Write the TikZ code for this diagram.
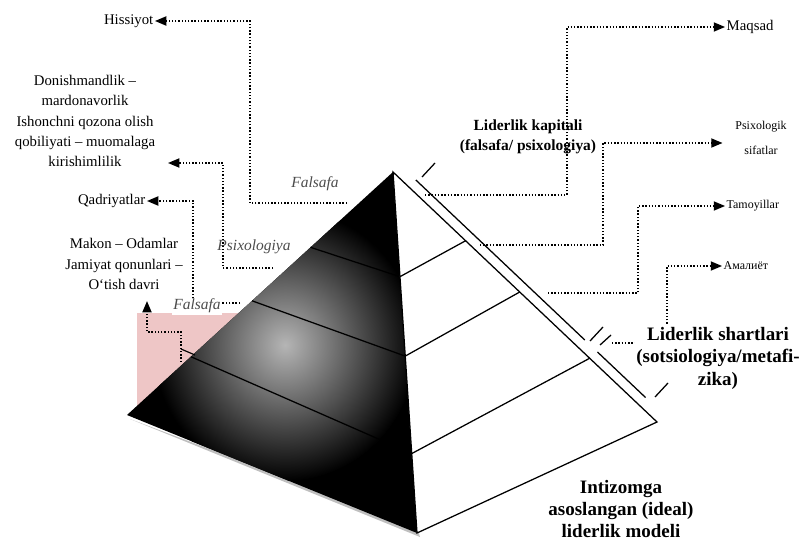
\documentclass[tikz,border=0pt]{standalone}
\usepackage{fontspec}
\setmainfont{Liberation Serif}
\usetikzlibrary{arrows.meta, positioning, calc}

\definecolor{pinkbg}{RGB}{238,198,198}

\tikzset{
  link/.style={line width=1pt, dash pattern=on 1pt off 1.3pt, -{Triangle[length=8pt, width=6.5pt]}},
  rim/.style={line width=0.9pt},
  lbl/.style={font=\fontsize{10.5}{14.5}\selectfont, align=center, inner sep=1pt},
  smalllbl/.style={font=\fontsize{8.5}{17.5}\selectfont, align=center, inner sep=1pt},
  italbl/.style={font=\fontsize{11}{13}\selectfont\itshape, text=black!70, inner sep=1pt},
  headlbl/.style={font=\fontsize{13.5}{16}\selectfont\bfseries, align=center, inner sep=1pt},
}

\begin{document}
\begin{tikzpicture}[x=0.025cm, y=-0.025cm]
    \useasboundingbox (0,0) rectangle (799,544);

    % Piramida burchaklari
    \coordinate (apex) at (393,172);
    \coordinate (lc) at (127,415);
    \coordinate (fb) at (417,533);
    \coordinate (rc) at (657,422);

    % Pushti fon
    \fill[pinkbg] (137,313) rectangle (250,412);

    % Chap yuz (qora)
    \fill[black!25] ($(lc)+(3,4)$) -- ($(fb)+(3,4)$) -- ($(fb)+(0,-6)$) -- cycle;
    \fill[black] (apex) -- (lc) -- (fb) -- cycle;
    \begin{scope}
        \clip (apex) -- (lc) -- (fb) -- cycle;
        \shade[inner color=gray!58, outer color=black] (285,345) ellipse (3.3cm and 3.4cm);
    \end{scope}
    \draw[rim] ($(apex)!0.31!(lc)$) -- ($(apex)!0.29!(fb)$);
    \draw[rim] ($(apex)!0.53!(lc)$) -- ($(apex)!0.51!(fb)$);
    \draw[rim] ($(apex)!0.76!(lc)$) -- ($(apex)!0.78!(fb)$);

    % O'ng yuz (oq)
    \filldraw[rim, fill=white] (apex) -- (fb) -- (rc) -- cycle;
    \draw[rim] ($(apex)!0.29!(fb)$) -- ($(apex)!0.275!(rc)$);
    \draw[rim] ($(apex)!0.51!(fb)$) -- ($(apex)!0.48!(rc)$);
    \draw[rim] ($(apex)!0.78!(fb)$) -- ($(apex)!0.745!(rc)$);

    % Chap yozuvlar
    \node[lbl, anchor=east] (hissiyot) at (155,21) {Hissiyot};
    \node[lbl, inner xsep=9pt] (donish) at (85,121) {Donishmandlik –\\mardonavorlik\\Ishonchni qozona olish\\qobiliyati – muomalaga\\kirishimlilik};
    \node[lbl, anchor=east] (qadr) at (147,201) {Qadriyatlar};
    \node[lbl] (makon) at (124,264) {Makon – Odamlar\\Jamiyat qonunlari –\\O‘tish davri};

    % O'ng yozuvlar
    \node[lbl, anchor=west] (maqsad) at (725,27) {Maqsad};
    \node[font=\fontsize{11}{14}\selectfont\bfseries, align=center, inner sep=1pt] (kapital) at (528,137) {Liderlik kapitali\\(falsafa/ psixologiya)};
    \node[smalllbl, inner xsep=9pt] (psifat) at (761,138) {Psixologik\\sifatlar};
    \node[smalllbl, anchor=west] (tamoy) at (725,206) {Tamoyillar};
    \node[smalllbl, anchor=west] (amal) at (722,266) {Амалиёт};
    \node[headlbl] (model) at (621,509) {Intizomga\\asoslangan (ideal)\\liderlik modeli};

    % Chiziqlar boshlanishi
    \coordinate (fal1) at (347,203);
    \coordinate (psi1) at (273,268);
    \coordinate (fal2) at (240,303);
    \coordinate (pk) at (181,362);
    \coordinate (kap1) at (425,195);
    \coordinate (kap2) at (480,245);
    \coordinate (sh1) at (548,293);
    \coordinate (sh2) at (612,343);

    % Nuqtali strelkalar
    \draw[link] (fal1) -- ++(-97,0) |- (hissiyot.east);
    \draw[link] (psi1) -- ++(-50,0) |- (donish.east |- 0,163);
    \draw[link] (fal2) -- ++(-47,0) |- (qadr.east);
    \draw[link, shorten >=7pt] (pk) -- ++(0,-30) -| (makon.south -| 147,0);
    \draw[line width=0.8pt] (181,349) -- (195,355);
    \draw[link] (kap1) -- ++(142,0) |- (maqsad.west);
    \draw[link] (kap2) -- ++(123,0) |- (psifat.west |- 0,143);
    \draw[link] (sh1) -- ++(90,0) |- (tamoy.west);
    \draw[link] (sh2) -- ++(55,0) |- (amal.west);

    % Kursiv yozuvlar
    \node[italbl] (falsafa1) at (315,184) {Falsafa};
    \node[italbl] (psixo) at (254,247) {Psixologiya};
    \node[italbl, fill=white] (falsafa2) at (197,306) {Falsafa};

    \node[headlbl, fill=white] (shart) at (718,358) {Liderlik shartlari\\(sotsiologiya/metafi-\\zika)};

    % Qo'sh chiziq va belgilar
    \draw[rim] ($(apex)!0.06!(rc)+(7,-7)$) -- ($(apex)!0.70!(rc)+(7,-7)$);
    \draw[rim] ($(apex)!0.748!(rc)+(7,-7)$) -- ($(apex)!0.93!(rc)+(7,-7)$);
    \draw[rim] (422,177) -- ++(13,-14);
    \draw[rim] (590,341) -- ++(13,-14);
    \draw[rim] (600,345) -- ++(11,-10);
    \draw[rim] (655,397) -- ++(13,-14);
\end{tikzpicture}
\end{document}
